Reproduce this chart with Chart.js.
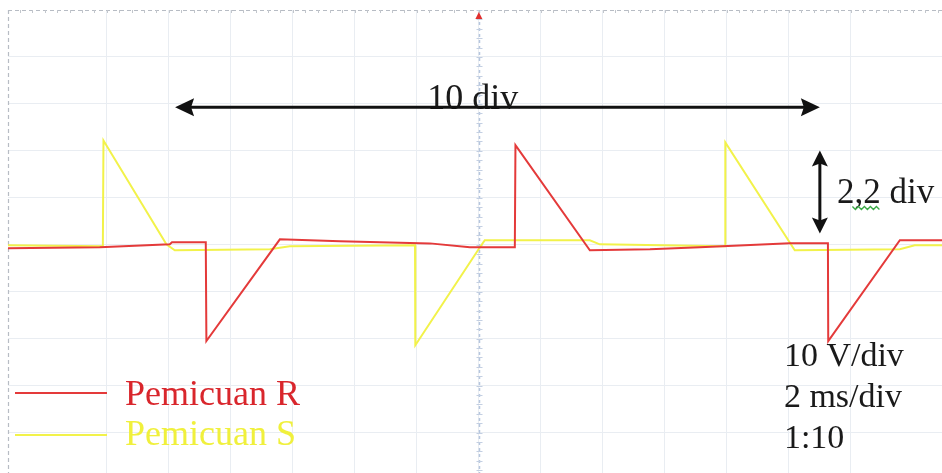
<!DOCTYPE html>
<html>
<head>
<meta charset="utf-8">
<script src="https://cdn.jsdelivr.net/npm/chart.js@4/dist/chart.umd.min.js"></script>
<style>
  html, body { margin: 0; padding: 0; background: #ffffff; }
  #wrap { width: 942px; height: 473px; }
</style>
</head>
<body>
<div id="wrap"><canvas id="c" width="942" height="473"></canvas></div>
<script>
// ---- Data (time in ms, voltage in V; 2 ms/div, 10 V/div) ----
const seriesNames = ["Pemicuan R", "Pemicuan S"];
const timeR = [-15.19, -12.23, -9.97, -9.9, -8.81, -8.79, -6.42, -4.48, -1.58, -0.29, 1.16, 1.18, 3.58, 5.52, 7.13, 10.03, 11.26, 11.27, 13.58, 14.94];
const voltR = [-0.74, -0.53, 0.1, 0.53, 0.53, -20.5, 1.17, 0.74, 0.3, -0.53, -0.53, 21.2, -1.17, -0.96, -0.53, 0.32, 0.32, -20.5, 0.96, 0.96];
const timeS = [-15.19, -12.13, -12.11, -10.08, -9.81, -6.74, -6.1, -2.06, -2.05, -0.03, 0.19, 3.58, 3.9, 7.94, 7.95, 10.19, 13.58, 14.06, 14.94];
const voltS = [-0.1, -0.3, 22.2, 0.1, -1.17, -0.96, -0.3, -0.1, -21.4, -1.17, 0.96, 0.96, 0.1, -0.3, 21.8, -1.17, -0.96, -0.1, -0.1];
const xRange = [-15.19, 14.94];   // ms
const yRange = [-48.6, 50];       // V
const msPerDiv = 2, vPerDiv = 10;
// Annotation positions (data units)
const spanArrow = { x1: -9.8, x2: 11.0, y: 29.3, label: "10 div", labelX: -0.2 };
const ampArrow = { x: 11.0, y1: 20.1, y2: 2.4, label: "2,2 div", labelX: 11.55, labelY: 8.8 };
const scopeInfo = ["10 V/div", "2 ms/div", "1:10"];
const scopeInfoPos = { x: 9.84, y: -25.9 };

const colors = ["#e43a3a", "#f2f24a"];
const legendColors = ["#d9262c", "#f0f03c"];

function pts(t, v) { return t.map((x, i) => ({ x: x, y: v[i] })); }

const scopePlugin = {
  id: 'scope',
  beforeDatasetsDraw(chart) {
    const ctx = chart.ctx, a = chart.chartArea;
    const xs = chart.scales.x, ys = chart.scales.y;
    ctx.save();
    // dashed borders (top & left)
    ctx.strokeStyle = '#b7bcc4';
    ctx.lineWidth = 1.2;
    ctx.setLineDash([4, 3]);
    ctx.beginPath();
    ctx.moveTo(a.left, a.top + 0.5); ctx.lineTo(a.right, a.top + 0.5);
    ctx.moveTo(a.left + 0.5, a.top); ctx.lineTo(a.left + 0.5, a.bottom);
    ctx.stroke();
    // center vertical line (dotted, bluish) with minor ticks
    const cx = Math.round(xs.getPixelForValue(0)) + 0.5;
    ctx.strokeStyle = '#b6c6de';
    ctx.setLineDash([3, 3]);
    ctx.lineWidth = 1.5;
    ctx.beginPath(); ctx.moveTo(cx, a.top); ctx.lineTo(cx, a.bottom); ctx.stroke();
    ctx.setLineDash([]);
    ctx.lineWidth = 1;
    ctx.strokeStyle = '#c3cfe2';
    ctx.beginPath();
    for (let v = yRange[0]; v <= yRange[1]; v += vPerDiv / 5) {
      const vv = Math.round(v / 2) * 2;
      const py = Math.round(ys.getPixelForValue(vv)) + 0.5;
      ctx.moveTo(cx - 3, py); ctx.lineTo(cx + 3, py);
    }
    ctx.stroke();
    // minor ticks on top border
    ctx.strokeStyle = '#c2c6cc';
    ctx.beginPath();
    for (let t = Math.ceil(xRange[0] / 0.4) * 0.4; t <= xRange[1]; t += msPerDiv / 5) {
      const px = Math.round(xs.getPixelForValue(t)) + 0.5;
      ctx.moveTo(px, a.top); ctx.lineTo(px, a.top + 3);
    }
    ctx.stroke();
    ctx.restore();
  },
  afterDatasetsDraw(chart) {
    const ctx = chart.ctx, a = chart.chartArea;
    const xs = chart.scales.x, ys = chart.scales.y;
    const X = v => xs.getPixelForValue(v), Y = v => ys.getPixelForValue(v);
    ctx.save();
    // trigger marker at top center
    ctx.fillStyle = '#e0302f';
    const mx = X(0), my = a.top + 2;
    ctx.beginPath(); ctx.moveTo(mx, my); ctx.lineTo(mx + 3.5, my + 7); ctx.lineTo(mx - 3.5, my + 7); ctx.closePath(); ctx.fill();

    // text "10 div"
    ctx.fillStyle = '#1a1a1a';
    ctx.font = '36px "Liberation Serif", "Times New Roman", serif';
    ctx.textAlign = 'center'; ctx.textBaseline = 'alphabetic';
    ctx.fillText(spanArrow.label, X(spanArrow.labelX), Y(spanArrow.y) + 2);

    // horizontal double arrow
    const hx1 = X(spanArrow.x1), hx2 = X(spanArrow.x2), hy = Y(spanArrow.y);
    ctx.strokeStyle = '#111'; ctx.fillStyle = '#111'; ctx.lineWidth = 3;
    ctx.beginPath(); ctx.moveTo(hx1 + 10, hy); ctx.lineTo(hx2 - 10, hy); ctx.stroke();
    ctx.beginPath(); ctx.moveTo(hx1, hy); ctx.lineTo(hx1 + 19, hy - 9); ctx.lineTo(hx1 + 16, hy); ctx.lineTo(hx1 + 19, hy + 9); ctx.closePath(); ctx.fill();
    ctx.beginPath(); ctx.moveTo(hx2, hy); ctx.lineTo(hx2 - 19, hy - 9); ctx.lineTo(hx2 - 16, hy); ctx.lineTo(hx2 - 19, hy + 9); ctx.closePath(); ctx.fill();

    // vertical double arrow
    const vx = X(ampArrow.x), vy1 = Y(ampArrow.y1), vy2 = Y(ampArrow.y2);
    ctx.beginPath(); ctx.moveTo(vx, vy1 + 10); ctx.lineTo(vx, vy2 - 10); ctx.stroke();
    ctx.beginPath(); ctx.moveTo(vx, vy1); ctx.lineTo(vx - 8, vy1 + 16); ctx.lineTo(vx, vy1 + 13); ctx.lineTo(vx + 8, vy1 + 16); ctx.closePath(); ctx.fill();
    ctx.beginPath(); ctx.moveTo(vx, vy2); ctx.lineTo(vx - 8, vy2 - 16); ctx.lineTo(vx, vy2 - 13); ctx.lineTo(vx + 8, vy2 - 16); ctx.closePath(); ctx.fill();

    // "2,2 div"
    ctx.font = '35px "Liberation Serif", "Times New Roman", serif';
    ctx.textAlign = 'left';
    const lx = X(ampArrow.labelX), ly = Y(ampArrow.labelY);
    ctx.fillStyle = '#1a1a1a';
    ctx.fillText(ampArrow.label, lx, ly);
    // spell-check squiggle under ",2"
    const w2 = ctx.measureText('2').width;
    const sx1 = lx + w2 - 2, sx2 = lx + ctx.measureText('2,2').width + 1;
    ctx.strokeStyle = '#3aa845'; ctx.lineWidth = 1.3;
    ctx.beginPath();
    let up = true;
    for (let x = sx1; x <= sx2; x += 3) { ctx.lineTo(x, ly + (up ? 3 : 6)); up = !up; }
    ctx.stroke();

    // scope settings text
    ctx.fillStyle = '#1a1a1a';
    ctx.font = '34px "Liberation Serif", "Times New Roman", serif';
    const sx = X(scopeInfoPos.x), sy = Y(scopeInfoPos.y);
    scopeInfo.forEach((s, i) => ctx.fillText(s, sx, sy + i * 41));

    // legend (inside plot, bottom-left)
    const lgx = a.left + 7, lgy = a.top + 383;
    chart.data.datasets.forEach((ds, i) => {
      const yy = lgy + i * 42;
      ctx.strokeStyle = ds.borderColor; ctx.lineWidth = 2;
      ctx.beginPath(); ctx.moveTo(lgx, yy); ctx.lineTo(lgx + 92, yy); ctx.stroke();
      ctx.fillStyle = legendColors[i];
      ctx.font = '36px "Liberation Serif", "Times New Roman", serif';
      ctx.fillText(ds.label, lgx + 110, yy + 12 + (i ? -2 : 0));
    });
    ctx.restore();
  }
};

function keepMultiples(step) {
  return function (scale) {
    scale.ticks = scale.ticks.filter(t => {
      const r = t.value / step;
      return Math.abs(r - Math.round(r)) < 1e-6 && t.value > scale.min + 1e-6 && t.value < scale.max - 1e-6;
    });
  };
}

new Chart(document.getElementById('c'), {
  type: 'line',
  data: {
    datasets: [
      { label: seriesNames[0], data: pts(timeR, voltR), borderColor: colors[0], borderWidth: 2, pointRadius: 0, tension: 0, fill: false },
      { label: seriesNames[1], data: pts(timeS, voltS), borderColor: colors[1], borderWidth: 2, pointRadius: 0, tension: 0, fill: false }
    ]
  },
  options: {
    responsive: false,
    animation: false,
    events: [],
    layout: { padding: { left: 8, top: 10, right: 0, bottom: 0 } },
    plugins: { legend: { display: false }, tooltip: { enabled: false } },
    scales: {
      x: {
        type: 'linear', min: xRange[0], max: xRange[1],
        ticks: { display: false, stepSize: msPerDiv },
        afterBuildTicks: keepMultiples(msPerDiv),
        grid: { color: '#e9edf2', lineWidth: 1, drawTicks: false },
        border: { display: false }
      },
      y: {
        type: 'linear', min: yRange[0], max: yRange[1],
        ticks: { display: false, stepSize: vPerDiv },
        afterBuildTicks: keepMultiples(vPerDiv),
        grid: { color: '#e9edf2', lineWidth: 1, drawTicks: false },
        border: { display: false }
      }
    }
  },
  plugins: [scopePlugin]
});
</script>
</body>
</html>
